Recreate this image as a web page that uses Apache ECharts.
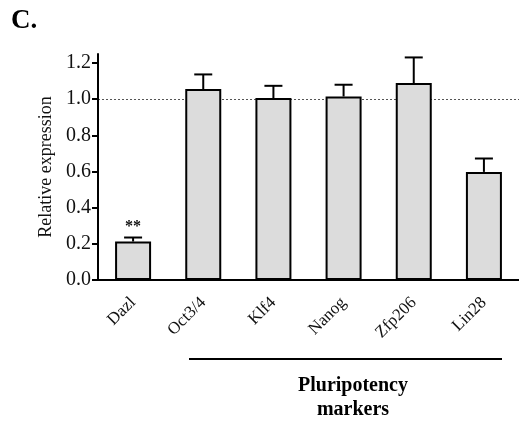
<!DOCTYPE html>
<html>
<head>
<meta charset="utf-8">
<script src="https://cdn.jsdelivr.net/npm/echarts@6/dist/echarts.min.js"></script>
<style>
  html, body { margin: 0; padding: 0; background: #fff; }
  #chart { width: 519px; height: 425px; }
</style>
</head>
<body>
<div id="chart"></div>
<script>
const genes = ['Dazl', 'Oct3/4', 'Klf4', 'Nanog', 'Zfp206', 'Lin28'];
const means = [0.213, 1.056, 1.006, 1.015, 1.089, 0.598];
const sems = [0.022, 0.081, 0.068, 0.065, 0.142, 0.074];
const stars = ['**', '', '', '', '', ''];
const yTicks = [0, 0.2, 0.4, 0.6, 0.8, 1.0, 1.2];

const serif = '"Liberation Serif", "Times New Roman", serif';

const myChart = echarts.init(document.getElementById('chart'), null, {renderer: 'canvas'});

const option = {
  backgroundColor: '#fff',
  animation: false,
  grid: {left: 98, top: 54, width: 427, bottom: 145},
  xAxis: {
    type: 'category',
    data: genes,
    axisLine: {lineStyle: {color: '#000', width: 2}},
    axisTick: {alignWithLabel: true, length: 6, lineStyle: {color: '#000', width: 2}},
    axisLabel: {rotate: 45, margin: 20, color: '#111', fontFamily: serif, fontSize: 17}
  },
  yAxis: [{
    type: 'value',
    min: 0,
    max: 1.25,
    name: 'Relative expression',
    nameLocation: 'middle',
    nameGap: 43,
    nameTextStyle: {fontFamily: serif, fontSize: 18, color: '#111'},
    axisLine: {show: true, lineStyle: {color: '#000', width: 2}},
    axisTick: {show: true, length: 6, customValues: yTicks, lineStyle: {color: '#000', width: 2}},
    axisLabel: {customValues: yTicks, margin: 7, color: '#111', fontFamily: serif, fontSize: 20,
      formatter: v => v.toFixed(1)},
    splitLine: {show: false}
  }, {
    // hidden axis, only used for the dotted reference line at 1.0
    type: 'value',
    min: 0,
    max: 1.25,
    interval: 1,
    position: 'left',
    axisLine: {show: false},
    axisTick: {show: false},
    axisLabel: {show: false},
    splitLine: {show: true, showMaxLine: false, showMinLine: false,
      lineStyle: {color: '#555', type: [2, 2], width: 1}}
  }],
  series: [{
    type: 'bar',
    data: means,
    barWidth: 36,
    itemStyle: {color: '#dcdcdc', borderColor: '#000', borderWidth: 2},
    z: 3
  }, {
    type: 'custom',
    z: 4,
    data: means.map((m, i) => [i, m, m + sems[i]]),
    renderItem: function (params, api) {
      const i = api.value(0);
      const base = api.coord([i, api.value(1)]);
      const top = api.coord([i, api.value(2)]);
      const half = 9;
      const children = [
        {type: 'line', shape: {x1: base[0], y1: base[1], x2: top[0], y2: top[1]},
          style: {stroke: '#000', lineWidth: 2}},
        {type: 'line', shape: {x1: top[0] - half, y1: top[1], x2: top[0] + half, y2: top[1]},
          style: {stroke: '#000', lineWidth: 2}}
      ];
      if (stars[i]) {
        children.push({type: 'text', x: top[0], y: top[1] - 3,
          style: {text: stars[i], fill: '#111', font: 'bold 16px ' + serif,
            textAlign: 'center', textVerticalAlign: 'bottom'}});
      }
      return {type: 'group', children: children};
    }
  }],
  graphic: [
    {type: 'text', left: 11, top: 8,
      style: {text: 'C.', font: 'bold 27px ' + serif, fill: '#000'}},
    {type: 'line', shape: {x1: 189, y1: 359, x2: 502, y2: 359},
      style: {stroke: '#000', lineWidth: 2}},
    {type: 'text', x: 353, y: 398,
      style: {text: 'Pluripotency\nmarkers', font: 'bold 20px ' + serif, fill: '#000',
        textAlign: 'center', textVerticalAlign: 'middle', lineHeight: 24}}
  ]
};

myChart.setOption(option);
window.onresize = function () {
  myChart.resize();
};
</script>
</body>
</html>
